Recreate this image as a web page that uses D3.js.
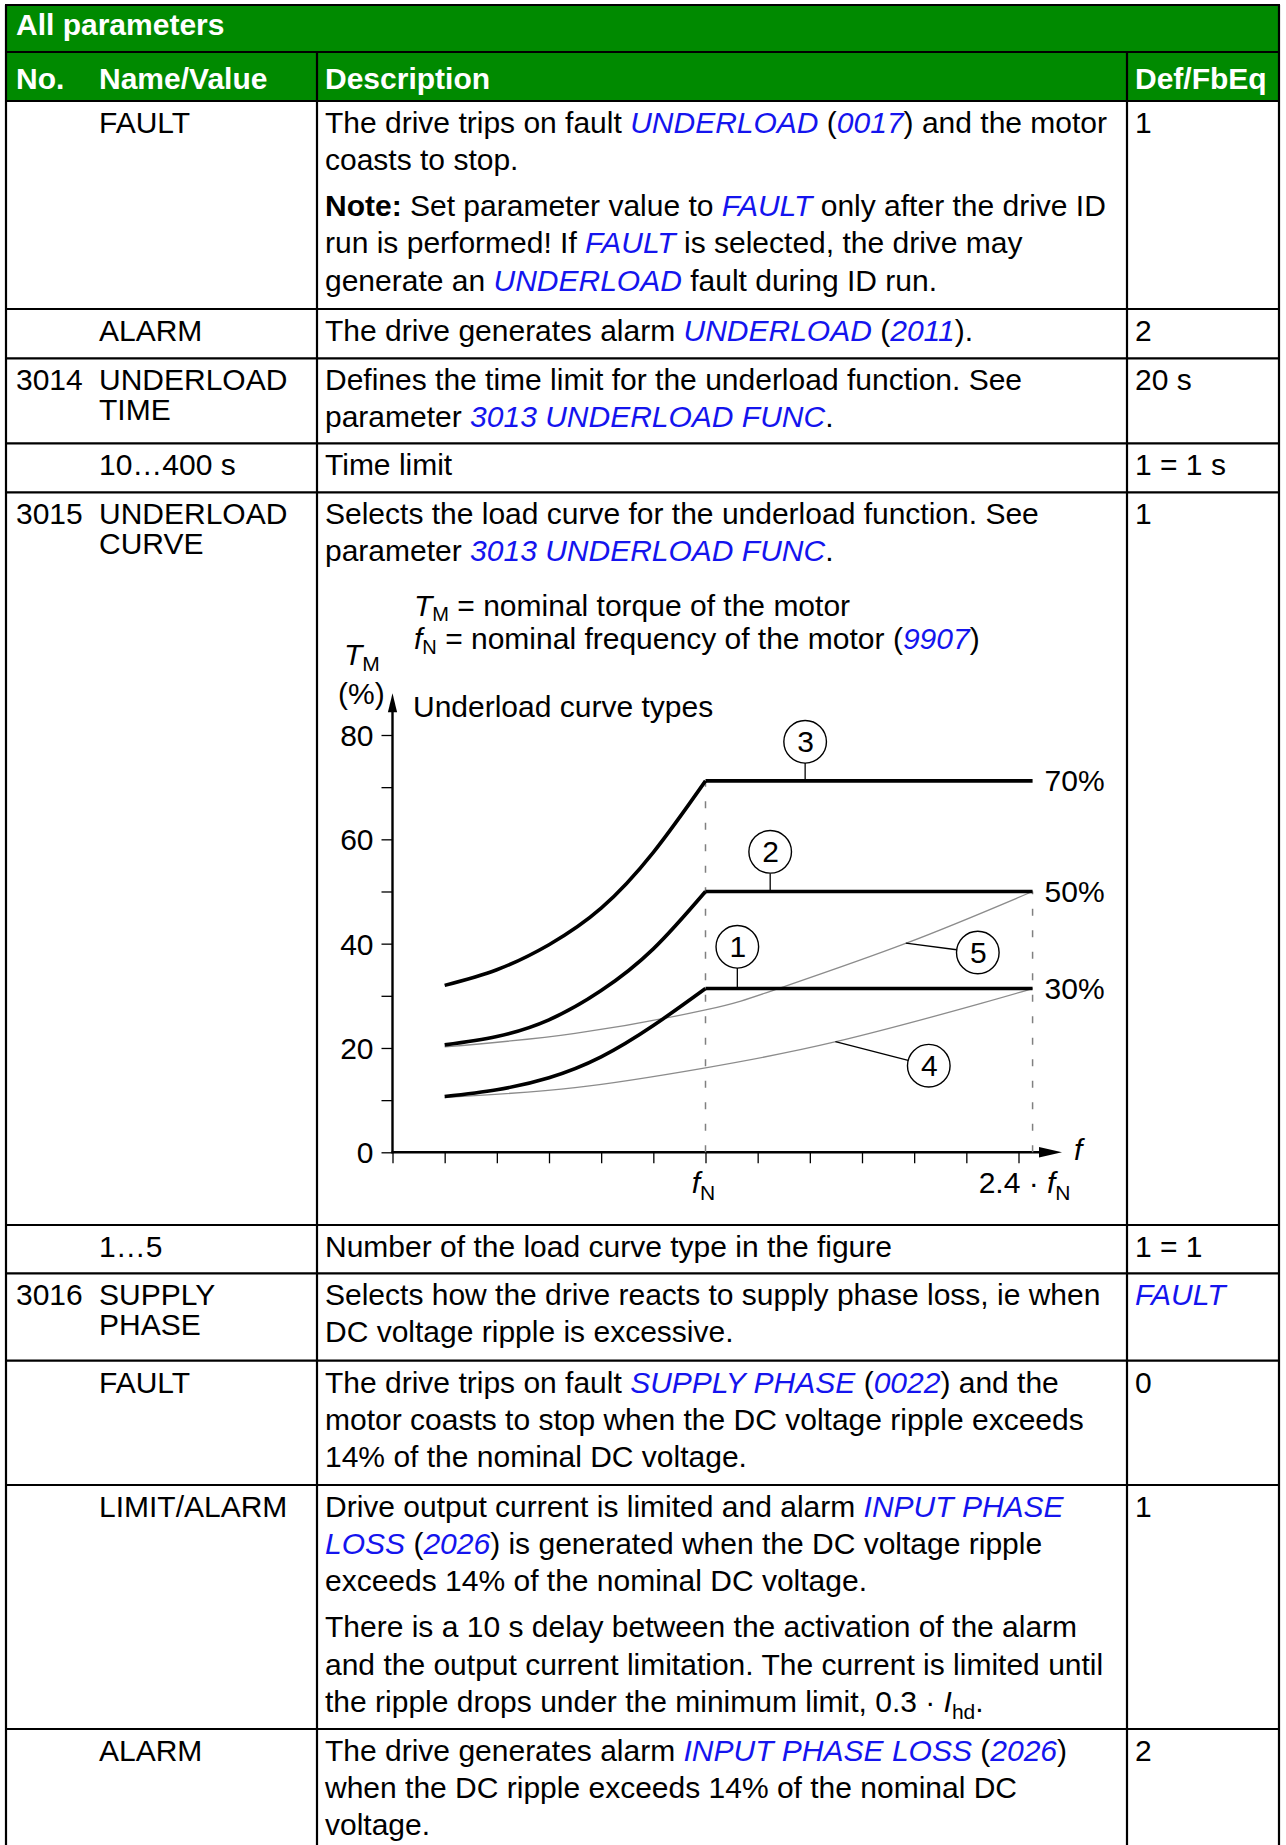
<!DOCTYPE html>
<html><head><meta charset="utf-8">
<script src="https://cdn.jsdelivr.net/npm/d3@7"></script>
<style>
body{margin:0;background:#fff;}
svg{display:block;}
svg text{font-family:"Liberation Sans",Arial,Helvetica,sans-serif;font-size:30px;letter-spacing:0px;fill:#000;white-space:pre;}
</style></head><body>
<svg id="c" width="1286" height="1845"></svg>
<script>
// ---------- table content ----------
const title = "All parameters";
const headers = ["No.", "Name/Value", "Description", "Def/FbEq"];
const rowNos = ["", "", "3014", "", "3015", "", "3016", "", "", ""];
const rowNames = [["FAULT"], ["ALARM"], ["UNDERLOAD", "TIME"], ["10…400 s"], ["UNDERLOAD", "CURVE"], ["1…5"], ["SUPPLY", "PHASE"], ["FAULT"], ["LIMIT/ALARM"], ["ALARM"]];
const rowDescs = [
  [["The drive trips on fault {UNDERLOAD} ({0017}) and the motor", "coasts to stop."],
   ["*Note:* Set parameter value to {FAULT} only after the drive ID", "run is performed! If {FAULT} is selected, the drive may", "generate an {UNDERLOAD} fault during ID run."]],
  [["The drive generates alarm {UNDERLOAD} ({2011})."]],
  [["Defines the time limit for the underload function. See", "parameter {3013 UNDERLOAD FUNC}."]],
  [["Time limit"]],
  [["Selects the load curve for the underload function. See", "parameter {3013 UNDERLOAD FUNC}."]],
  [["Number of the load curve type in the figure"]],
  [["Selects how the drive reacts to supply phase loss, ie when", "DC voltage ripple is excessive."]],
  [["The drive trips on fault {SUPPLY PHASE} ({0022}) and the", "motor coasts to stop when the DC voltage ripple exceeds", "14% of the nominal DC voltage."]],
  [["Drive output current is limited and alarm {INPUT PHASE}", "{LOSS} ({2026}) is generated when the DC voltage ripple", "exceeds 14% of the nominal DC voltage."],
   ["There is a 10 s delay between the activation of the alarm", "and the output current limitation. The current is limited until", "the ripple drops under the minimum limit, 0.3 · _I_^hd^."]],
  [["The drive generates alarm {INPUT PHASE LOSS} ({2026})", "when the DC ripple exceeds 14% of the nominal DC", "voltage."]]
];
const rowDefs = ["1", "2", "20 s", "1 = 1 s", "1", "1 = 1", "{FAULT}", "0", "1", "2"];

// ---------- chart content ----------
const chartNotes = ["_T_^M^ = nominal torque of the motor", "_f_^N^ = nominal frequency of the motor ({9907})"];
const chartTitle = "Underload curve types";
const yTicksMajor = [0, 20, 40, 60, 80];
const yTicksMinor = [10, 30, 50, 70];
const xTickValues = [0, 1, 2, 3, 4, 5, 6, 7, 8, 9, 10, 11, 12];
const fN = 6, fMax = 12.27;
const xLabels = [["_f_^N^", fN], ["2.4 · _f_^N^", fMax]];
const curve1Rise = [[1, 10.7], [2, 12.0], [3, 14.3], [4, 18.3], [5, 24.3], [6, 31.4]];
const curve2Rise = [[1, 20.6], [2, 22.2], [3, 25.4], [4, 31.0], [5, 39.0], [6, 50]];
const curve3Rise = [[1, 32], [2, 35.0], [3, 39.8], [4, 46.8], [5, 57.5], [6, 71.2]];
const levels = [31.4, 50, 71.2];
const levelLabels = ["30%", "50%", "70%"];
const curve4 = [[1, 10.5], [3.5, 12.4], [6, 16.2], [8.5, 21.2], [11.3, 28.6], [12.27, 31.4]];
const curve5 = [[1, 20.2], [3.5, 22.8], [6, 27.3], [7.4, 31.4], [9.85, 40.1], [12.27, 50]];
const markerIds = ["1", "2", "3", "4", "5"];
const markerCentres = [[6.61, 39.4], [7.24, 57.6], [7.91, 78.7], [10.28, 16.6], [11.22, 38.3]];
const markerTargets = [[6.61, 31.4], [7.24, 50], [7.91, 71.2], [8.49, 21.2], [9.84, 40.1]];

// ---------- layout ----------
const GREEN = "#008a00", LINK = "#1414ee";
const L = 6, R = 1279, C1 = 317, C2 = 1127, BOTTOM = 1845;
const rowTops = [101, 309, 358.3, 443.3, 492.3, 1225, 1273.3, 1360.7, 1485, 1729];
const FIRST = 31.8, DLINE = 37.2, PARA = 9, NLINE = 30;

const svg = d3.select("#c");

// one <text> element, several lines (each line may hold simple markup)
function rich(sel, x, y, lines, spacing, anchor, subDy = 7, subFs = "21px") {
  if (!Array.isArray(lines)) lines = [lines];
  const t = sel.append("text").attr("x", x).attr("y", y);
  if (anchor) t.attr("text-anchor", anchor);
  let shift = 0;
  lines.forEach((markup, li) => {
    const parts = markup.split(/(\{[^}]*\}|\*[^*]*\*|_[^_]*_|\^[^^]*\^)/).filter(s => s.length);
    parts.forEach((p, pi) => {
      const ts = t.append("tspan");
      let txt = p, sub = false;
      const c = p[0];
      if (c === "{") { txt = p.slice(1, -1); ts.style("fill", LINK).attr("font-style", "italic"); }
      else if (c === "*") { txt = p.slice(1, -1); ts.attr("font-weight", "bold"); }
      else if (c === "_") { txt = p.slice(1, -1); ts.attr("font-style", "italic"); }
      else if (c === "^") { txt = p.slice(1, -1); sub = true; }
      let dy = 0;
      if (li > 0 && pi === 0) { ts.attr("x", x); dy += spacing; }
      if (sub) { dy += subDy - shift; ts.style("font-size", subFs); shift = subDy; }
      else if (shift) { dy -= shift; shift = 0; }
      if (dy) ts.attr("dy", dy);
      ts.text(txt);
    });
  });
  return t;
}

// header bars
svg.append("rect").attr("x", L).attr("y", 5).attr("width", R - L).attr("height", 47).attr("fill", GREEN);
svg.append("rect").attr("x", L).attr("y", 52).attr("width", R - L).attr("height", 49).attr("fill", GREEN);
svg.append("text").attr("x", 16).attr("y", 35).attr("font-weight", "bold").style("fill", "#fff").text(title);
const headerX = [16, 99, 325, 1135];
headers.forEach((h, i) => svg.append("text").attr("x", headerX[i]).attr("y", 89).attr("font-weight", "bold").style("fill", "#fff").text(h));

// rows
rowTops.forEach((top, i) => {
  const b = top + FIRST;
  if (rowNos[i]) rich(svg, 16, b, rowNos[i]);
  rich(svg, 99, b, rowNames[i], NLINE);
  let yy = b;
  rowDescs[i].forEach((para, pi) => {
    if (pi > 0) yy += PARA;
    para.forEach(line => { rich(svg, 325, yy, line); yy += DLINE; });
  });
  rich(svg, 1135, b, rowDefs[i]);
});

// grid lines
const gl = svg.append("g").attr("stroke", "#000").attr("stroke-width", 2.2);
[5, 52, ...rowTops].forEach(yv => gl.append("line").attr("x1", L - 1).attr("x2", R + 1).attr("y1", yv).attr("y2", yv));
[[L, 5], [R, 5], [C1, 52], [C2, 52]].forEach(([xv, y0]) => gl.append("line").attr("x1", xv).attr("x2", xv).attr("y1", y0).attr("y2", BOTTOM));

// ---------- chart ----------
const x = d3.scaleLinear().domain([0, 12]).range([392.5, 1018.5]);
const y = d3.scaleLinear().domain([0, 80]).range([1152.3, 735]);
const ch = svg.append("g");

// notes and titles
rich(ch, 414, 615.5, chartNotes, 33.6, null, 5, "20px");
rich(ch, 413, 716.7, chartTitle);
rich(ch, 344, 665, "_T_^M^", 0, null, 6, "21px");
rich(ch, 338, 704, "(%)");

// y axis ticks
const yAxis = d3.axisLeft(y).tickValues(yTicksMajor.concat(yTicksMinor)).tickSize(11).tickPadding(8)
  .tickFormat(d => yTicksMajor.includes(d) ? d : "");
const gy = ch.append("g").attr("transform", `translate(${x(0)},0)`).call(yAxis);
gy.select(".domain").remove();
gy.selectAll(".tick line").attr("stroke-width", 1.3);
gy.selectAll(".tick text").attr("dy", "0.35em");

// x axis ticks
const xAxis = d3.axisBottom(x).tickValues(xTickValues).tickSize(11).tickFormat("");
const gx = ch.append("g").attr("transform", `translate(0,${y(0)})`).call(xAxis);
gx.select(".domain").remove();
gx.selectAll(".tick line").attr("stroke-width", 1.3);

// axis lines with arrows
const yTop = y(0) - 459, xEnd = 1062;
ch.append("line").attr("x1", x(0)).attr("x2", x(0)).attr("y1", y(0) + 1).attr("y2", yTop + 10).attr("stroke", "#000").attr("stroke-width", 2.4);
ch.append("path").attr("d", `M${x(0)},${yTop} L${x(0) - 4.6},${yTop + 19} L${x(0) + 4.6},${yTop + 19} Z`).attr("fill", "#000");
ch.append("line").attr("x1", x(0) - 1).attr("x2", xEnd - 12).attr("y1", y(0)).attr("y2", y(0)).attr("stroke", "#000").attr("stroke-width", 2.4);
ch.append("path").attr("d", `M${xEnd},${y(0)} L${xEnd - 23},${y(0) - 5.2} L${xEnd - 23},${y(0) + 5.2} Z`).attr("fill", "#000");
rich(ch, 1074, 1160, "_f_");

// x labels
rich(ch, x(xLabels[0][1]) - 2, 1193, xLabels[0][0], 0, "middle");
rich(ch, x(xLabels[1][1]) - 8, 1193, xLabels[1][0], 0, "middle");

// dashed guides
ch.append("line").attr("x1", x(fN)).attr("x2", x(fN)).attr("y1", y(0)).attr("y2", y(levels[2]))
  .attr("stroke", "#808080").attr("stroke-width", 1.5).attr("stroke-dasharray", "7,14.5");
ch.append("line").attr("x1", x(fMax)).attr("x2", x(fMax)).attr("y1", y(0)).attr("y2", y(levels[1]))
  .attr("stroke", "#808080").attr("stroke-width", 1.5).attr("stroke-dasharray", "7,14.5");

// thin curves
const smooth = d3.line().x(d => x(d[0])).y(d => y(d[1])).curve(d3.curveNatural);
[curve4, curve5].forEach(c => ch.append("path").attr("d", smooth(c)).attr("fill", "none").attr("stroke", "#8c8c8c").attr("stroke-width", 1.3));

// thick curves
[curve1Rise, curve2Rise, curve3Rise].forEach((c, i) => {
  ch.append("path").attr("d", smooth(c)).attr("fill", "none").attr("stroke", "#000").attr("stroke-width", 3.6).attr("stroke-linecap", "butt");
  ch.append("line").attr("x1", x(fN)).attr("x2", x(fMax)).attr("y1", y(levels[i])).attr("y2", y(levels[i]))
    .attr("stroke", "#000").attr("stroke-width", 3.6);
  rich(ch, x(fMax) + 12, y(levels[i]) + 10.5, levelLabels[i]);
});

// numbered markers
const RAD = 21.3;
markerIds.forEach((id, i) => {
  const cx = x(markerCentres[i][0]), cy = y(markerCentres[i][1]);
  const tx = x(markerTargets[i][0]), ty = y(markerTargets[i][1]);
  const dx = tx - cx, dy = ty - cy, len = Math.hypot(dx, dy);
  ch.append("line").attr("x1", cx + dx / len * RAD).attr("y1", cy + dy / len * RAD).attr("x2", tx).attr("y2", ty)
    .attr("stroke", "#000").attr("stroke-width", 1.3);
  ch.append("circle").attr("cx", cx).attr("cy", cy).attr("r", RAD).attr("fill", "#fff").attr("stroke", "#000").attr("stroke-width", 1.4);
  ch.append("text").attr("x", cx + 0.5).attr("y", cy + 10.5).attr("text-anchor", "middle").text(id);
});
</script>
</body></html>
